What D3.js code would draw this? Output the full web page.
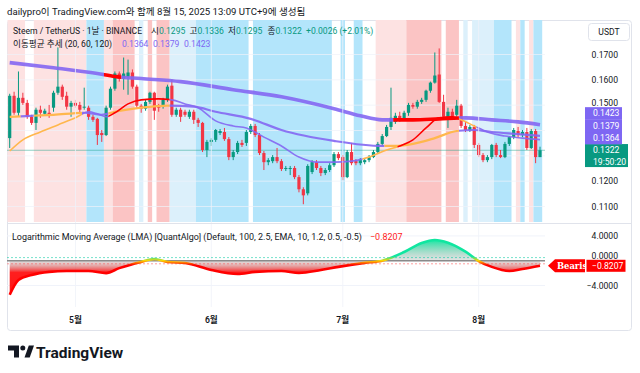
<!DOCTYPE html>
<html><head><meta charset="utf-8">
<script src="https://cdn.jsdelivr.net/npm/d3@7"></script>
<style>
html,body{margin:0;padding:0;background:#fff;}
svg{display:block;font-family:Roboto,"Noto Sans CJK KR",sans-serif;}
</style></head><body>
<svg id="chart" width="640" height="373"></svg>
<script>
// ---------- DATA ----------
const startDate = "2025-04-16";
const endDate = "2025-08-15";
const opens = [0.1370,0.1537,0.1470,0.1529,0.1509,0.1454,0.1430,0.1482,0.1466,0.1470,
0.1490,0.1549,0.1573,0.1537,0.1494,0.1509,0.1501,0.1490,0.1490,0.1454,
0.1446,0.1390,0.1382,0.1490,0.1565,0.1625,0.1605,0.1613,0.1629,0.1573,
0.1498,0.1486,0.1513,0.1549,0.1498,0.1494,0.1521,0.1577,0.1462,0.1482,
0.1474,0.1454,0.1474,0.1442,0.1430,0.1323,0.1355,0.1363,0.1390,0.1394,
0.1366,0.1295,0.1315,0.1351,0.1351,0.1394,0.1418,0.1382,0.1311,0.1275,
0.1279,0.1295,0.1279,0.1248,0.1248,0.1252,0.1216,0.1168,0.1152,0.1236,
0.1275,0.1252,0.1232,0.1244,0.1263,0.1307,0.1295,0.1216,0.1315,0.1279,
0.1271,0.1275,0.1283,0.1295,0.1315,0.1347,0.1378,0.1414,0.1434,0.1458,
0.1442,0.1470,0.1501,0.1494,0.1513,0.1521,0.1557,0.1589,0.1621,0.1513,
0.1454,0.1474,0.1462,0.1498,0.1418,0.1402,0.1414,0.1343,0.1303,0.1283,
0.1295,0.1343,0.1303,0.1295,0.1347,0.1374,0.1398,0.1382,0.1394,0.1331,
0.1398,0.1295];
const highs = [0.1545,0.1553,0.1633,0.1549,0.1521,0.1462,0.1490,0.1498,0.1486,0.1501,
0.1557,0.1728,0.1581,0.1553,0.1517,0.1521,0.1513,0.1569,0.1498,0.1462,
0.1450,0.1402,0.1498,0.1573,0.1633,0.1633,0.1688,0.1680,0.1641,0.1581,
0.1505,0.1521,0.1553,0.1553,0.1505,0.1529,0.1581,0.1601,0.1490,0.1490,
0.1482,0.1482,0.1482,0.1450,0.1434,0.1363,0.1370,0.1406,0.1406,0.1410,
0.1374,0.1323,0.1359,0.1363,0.1402,0.1426,0.1426,0.1390,0.1319,0.1291,
0.1303,0.1331,0.1287,0.1260,0.1260,0.1260,0.1224,0.1176,0.1267,0.1283,
0.1283,0.1260,0.1252,0.1271,0.1315,0.1315,0.1303,0.1323,0.1351,0.1287,
0.1291,0.1291,0.1303,0.1323,0.1355,0.1386,0.1422,0.1569,0.1470,0.1474,
0.1478,0.1509,0.1509,0.1521,0.1529,0.1561,0.1593,0.1708,0.1724,0.1541,
0.1490,0.1486,0.1521,0.1505,0.1434,0.1422,0.1422,0.1351,0.1311,0.1303,
0.1347,0.1351,0.1323,0.1355,0.1378,0.1410,0.1414,0.1402,0.1410,0.1406,
0.1406,0.1336];
const lows = [0.1331,0.1462,0.1454,0.1501,0.1446,0.1422,0.1402,0.1450,0.1458,0.1450,
0.1474,0.1541,0.1521,0.1482,0.1454,0.1490,0.1470,0.1482,0.1442,0.1434,
0.1343,0.1355,0.1378,0.1482,0.1557,0.1593,0.1561,0.1541,0.1565,0.1490,
0.1470,0.1478,0.1505,0.1442,0.1474,0.1486,0.1513,0.1454,0.1454,0.1434,
0.1454,0.1446,0.1426,0.1414,0.1315,0.1295,0.1339,0.1355,0.1382,0.1359,
0.1283,0.1283,0.1307,0.1335,0.1339,0.1386,0.1374,0.1303,0.1244,0.1263,
0.1271,0.1271,0.1240,0.1240,0.1224,0.1208,0.1156,0.1109,0.1144,0.1228,
0.1244,0.1220,0.1224,0.1236,0.1256,0.1283,0.1204,0.1212,0.1263,0.1263,
0.1263,0.1267,0.1275,0.1291,0.1307,0.1339,0.1374,0.1402,0.1426,0.1434,
0.1438,0.1458,0.1486,0.1486,0.1505,0.1513,0.1549,0.1585,0.1509,0.1450,
0.1410,0.1446,0.1454,0.1410,0.1394,0.1394,0.1331,0.1295,0.1275,0.1275,
0.1287,0.1295,0.1291,0.1291,0.1339,0.1366,0.1374,0.1374,0.1323,0.1327,
0.1271,0.1295];
const closes = [0.1537,0.1470,0.1529,0.1509,0.1454,0.1430,0.1482,0.1470,0.1478,0.1462,
0.1549,0.1573,0.1533,0.1494,0.1509,0.1498,0.1482,0.1494,0.1454,0.1442,
0.1382,0.1382,0.1490,0.1565,0.1625,0.1605,0.1625,0.1629,0.1573,0.1498,
0.1486,0.1513,0.1549,0.1478,0.1490,0.1521,0.1573,0.1462,0.1482,0.1454,
0.1462,0.1474,0.1442,0.1430,0.1323,0.1355,0.1363,0.1402,0.1398,0.1366,
0.1295,0.1315,0.1351,0.1343,0.1394,0.1418,0.1382,0.1311,0.1275,0.1283,
0.1295,0.1279,0.1248,0.1252,0.1252,0.1216,0.1168,0.1144,0.1260,0.1275,
0.1252,0.1232,0.1244,0.1263,0.1307,0.1291,0.1216,0.1315,0.1271,0.1271,
0.1283,0.1283,0.1295,0.1315,0.1347,0.1378,0.1414,0.1450,0.1458,0.1442,
0.1470,0.1501,0.1494,0.1513,0.1521,0.1557,0.1589,0.1617,0.1513,0.1454,
0.1474,0.1454,0.1498,0.1418,0.1402,0.1414,0.1343,0.1303,0.1283,0.1295,
0.1343,0.1303,0.1295,0.1347,0.1374,0.1402,0.1382,0.1394,0.1331,0.1398,
0.1295,0.1322];

// moving averages, read at sample days (day index from start)
const ma20Day = [0,3,7,11,15,18,20,22,24,27,30,34,37,40,43,47,51,54,58,62,66,70,74,78,82,86,89,92,95,98,101,103,106,109,113,117,121];
const ma20Val = [0.1319,0.1363,0.1394,0.1422,0.1450,0.1474,0.1466,0.1454,0.1470,0.1505,0.1521,0.1525,0.1521,0.1505,0.1490,0.1438,0.1418,0.1410,0.1374,0.1339,0.1295,0.1275,0.1275,0.1279,0.1295,0.1323,0.1339,0.1363,0.1410,0.1450,0.1454,0.1442,0.1418,0.1394,0.1378,0.1370,0.1364];
const ma60Day = [0,5,10,17,21,24,30,36,42,47,55,62,74,85,88,92,97,102,106,110,116,121];
const ma60Val = [0.1454,0.1458,0.1462,0.1470,0.1462,0.1474,0.1490,0.1498,0.1494,0.1474,0.1446,0.1402,0.1359,0.1339,0.1339,0.1347,0.1370,0.1398,0.1402,0.1394,0.1386,0.1379];
const ma120Day = [0,10,20,24,30,39,51,62,74,80,85,92,98,104,110,116,121];
const ma120Val = [0.1668,0.1648,0.1625,0.1613,0.1605,0.1593,0.1561,0.1533,0.1486,0.1458,0.1442,0.1442,0.1446,0.1450,0.1442,0.1434,0.1423];
// trend state runs: [first day, state]
const ma20Trend = [[0,"up"],[17,"down"],[23,"strong"],[37,"down"],[81,"up"],[89,"strong"],[103,"up"],[107,"down"]];
const ma60Trend = [[0,"up"],[3,"down"],[6,"up"],[17,"down"],[23,"up"],[37,"down"],[86,"up"],[103,"down"]];
const ma120Trend = [[0,"down"],[22,"strong"],[26,"down"],[88,"strong"],[103,"down"]];

// background regime runs: [first day, state]
const regimeRuns = [[0,"bull"],[4,"none"],[6,"bull"],[18,"bearStrong"],[22,"bull"],[24,"bullStrong"],[29,"none"],[30,"bear"],[31,"none"],[32,"bullStrong"],[33,"none"],[34,"bullStrong"],[37,"bear"],[43,"bearStrong"],[55,"none"],[56,"bearStrong"],[74,"none"],[76,"bearStrong"],[77,"none"],[79,"bearStrong"],[81,"none"],[84,"bull"],[91,"bullStrong"],[99,"none"],[100,"bullStrong"],[103,"none"],[104,"bear"],[105,"none"],[106,"bear"],[111,"bearStrong"],[115,"none"],[116,"bull"],[117,"bearStrong"],[118,"none"],[119,"bull"],[120,"bearStrong"]];

// LMA oscillator, read at sample days
const lmaDay = [0,2,5,9,13,18,22,25,30,33,36,40,46,52,56,62,66,71,75,81,85,90,94,97,100,104,107,110,114,117,121];
const lmaVal = [-5.5,-3.1,-2.3,-1.8,-1.65,-1.65,-2.0,-1.2,-0.2,0.27,-0.2,-0.37,-1.5,-2.15,-1.8,-1.66,-1.98,-1.5,-1.0,-0.35,0.0,1.4,2.85,3.35,2.9,1.45,-0.05,-1.0,-1.66,-1.34,-0.8207];

const priceTicks = [0.11,0.12,0.13,0.14,0.15,0.16,0.17];
const lmaTicks = [-4,0,4];

// ---------- SCALES ----------
const svg = d3.select("#chart");
const defs = svg.append("defs");
const parse = d3.utcParse("%Y-%m-%d");
const dates = d3.utcDay.range(parse(startDate), d3.utcDay.offset(parse(endDate), 1));
const x = d3.scaleUtc().domain([dates[0], dates[dates.length-1]]).range([9.7, 540]);
const y = d3.scaleLinear().domain([0.11, 0.17]).range([206.5, 54.5]);
const yl = d3.scaleLinear().domain([-4, 4]).range([285.5, 235.9]);
const step = x(dates[1]) - x(dates[0]);
const PL = 7, PR = 545, MT = 20, MB = 222, LT = 224, LB = 307;
const TXT = "#131722", GREEN = "#089981", RED = "#f23645", PURPLE = "#7e67f3";

defs.append("clipPath").attr("id","clipMain").append("rect").attr("x",PL).attr("y",MT).attr("width",PR-PL).attr("height",MB-MT);
defs.append("clipPath").attr("id","clipLow").append("rect").attr("x",PL).attr("y",LT).attr("width",PR-PL).attr("height",LB-LT);

// header
svg.append("text").attr("x",7).attr("y",15).attr("font-size",9.6).attr("fill",TXT)
  .text("dailypro이 TradingView.com와 함께 8월 15, 2025 13:09 UTC+9에 생성됨");

// frame
svg.append("rect").attr("x",7.5).attr("y",20.5).attr("width",624).attr("height",310).attr("rx",3)
  .attr("fill","none").attr("stroke","#e0e3eb");

// ---------- MAIN PANE ----------
const main = svg.append("g").attr("clip-path","url(#clipMain)");
const regimeColor = {bull:"#fde2e2", bullStrong:"#fbc4c4", bear:"#dcf0fb", bearStrong:"#b3e5fb", none:null};
const runs = (arr) => arr.map((r,k)=>({s:r[0], e:(k+1<arr.length?arr[k+1][0]:dates.length)-1, state:r[1]}));
main.selectAll("rect.band").data(runs(regimeRuns).filter(r=>regimeColor[r.state])).join("rect")
  .attr("class","band")
  .attr("x",r=>x(dates[r.s])-step/2).attr("width",r=>x(dates[r.e])-x(dates[r.s])+step)
  .attr("y",MT).attr("height",MB-MT).attr("fill",r=>regimeColor[r.state]);

// grids
const monthTicks = x.ticks(d3.utcMonth);
svg.selectAll("line.vg").data(monthTicks).join("line").attr("class","vg")
  .attr("x1",d=>x(d)).attr("x2",d=>x(d)).attr("y1",MT).attr("y2",LB)
  .attr("stroke","#f0f3fa").attr("stroke-width",1).attr("opacity",0.8);
main.selectAll("line.hg").data(priceTicks).join("line").attr("class","hg")
  .attr("x1",PL).attr("x2",PR).attr("y1",d=>y(d)).attr("y2",d=>y(d))
  .attr("stroke","#f0f3fa").attr("opacity",0.7);

// current price line
const lastClose = closes[closes.length-1];
main.append("line").attr("x1",PL).attr("x2",PR).attr("y1",y(lastClose)).attr("y2",y(lastClose))
  .attr("stroke",GREEN).attr("stroke-opacity",0.45).attr("stroke-width",1);

// candles
const idx = d3.range(dates.length);
main.selectAll("line.wick").data(idx).join("line").attr("class","wick")
  .attr("x1",i=>x(dates[i])).attr("x2",i=>x(dates[i]))
  .attr("y1",i=>y(highs[i])).attr("y2",i=>y(lows[i]))
  .attr("stroke",i=>closes[i]>=opens[i]?GREEN:RED).attr("stroke-width",1);
main.selectAll("rect.body").data(idx).join("rect").attr("class","body")
  .attr("x",i=>x(dates[i])-1.6).attr("width",3.2)
  .attr("y",i=>y(Math.max(opens[i],closes[i])))
  .attr("height",i=>Math.max(1, y(Math.min(opens[i],closes[i]))-y(Math.max(opens[i],closes[i]))))
  .attr("fill",i=>closes[i]>=opens[i]?GREEN:RED);

// moving averages with trend coloring
const maSpecs = [
  {id:"ma120", days:ma120Day, vals:ma120Val, trend:ma120Trend, w:3.6, colors:{down:"#8467f2", up:"#ffb74d", strong:"#ff0000"}},
  {id:"ma60", days:ma60Day, vals:ma60Val, trend:ma60Trend, w:2.2, colors:{down:"#8467f2", up:"#ffb74d", strong:"#ff0000"}},
  {id:"ma20", days:ma20Day, vals:ma20Val, trend:ma20Trend, w:1.6, colors:{down:"#8467f2", up:"#ffb74d", strong:"#ff0000"}}
];
const maLine = d3.line().x(d=>x(dates[d[0]])).y(d=>y(d[1])).curve(d3.curveMonotoneX);
maSpecs.forEach(spec=>{
  const pts = spec.days.map((d,k)=>[d, spec.vals[k]]);
  const pathD = maLine(pts);
  runs(spec.trend).forEach((r,k)=>{
    const cid = spec.id+"seg"+k;
    const x0 = r.s===0 ? PL : x(dates[r.s])-step/2;
    const x1 = r.e===dates.length-1 ? PR : x(dates[r.e])+step/2;
    defs.append("clipPath").attr("id",cid).append("rect").attr("x",x0).attr("y",MT).attr("width",x1-x0).attr("height",MB-MT);
    main.append("path").attr("d",pathD).attr("clip-path",`url(#${cid})`)
      .attr("fill","none").attr("stroke",spec.colors[r.state]).attr("stroke-width",spec.w)
      .attr("stroke-opacity", r.state==="down"?0.9:1).attr("stroke-linecap","butt");
  });
});

// legend
const leg1 = svg.append("text").attr("y",34).attr("font-size",8.6).attr("fill",TXT);
leg1.append("tspan").attr("x",13).text("Steem / TetherUS · 1날 · BINANCE");
const ohlc = [["시",opens[opens.length-1],151],["고",highs[highs.length-1],189.5],["저",lows[lows.length-1],228],["종",lastClose,267.5]];
ohlc.forEach(o=>{
  leg1.append("tspan").attr("x",o[2]).attr("fill",TXT).text(o[0]);
  leg1.append("tspan").attr("fill",GREEN).text(d3.format(".4f")(o[1]));
});
leg1.append("tspan").attr("x",306).attr("fill",GREEN).text("+0.0026 (+2.01%)");
const leg2 = svg.append("text").attr("y",47).attr("font-size",8.6).attr("fill",TXT);
leg2.append("tspan").attr("x",13).text("이동평균 추세 (20, 60, 120)");
[[ma20Val,122],[ma60Val,153],[ma120Val,184]].forEach(m=>{
  leg2.append("tspan").attr("x",m[1]).attr("fill",PURPLE).text(d3.format(".4f")(m[0][m[0].length-1]));
});

// price labels (stacked upward from current price) - computed first to hide covered ticks
const curTop = y(lastClose)-6.2, curBot = curTop+23;
const maLast = [ma20Val[ma20Val.length-1], ma60Val[ma60Val.length-1], ma120Val[ma120Val.length-1]].sort((a,b)=>a-b);
let prevTop = curTop; const LH = 12.3;
const maBoxes = maLast.map(v=>{
  const cy = Math.min(y(v), prevTop-LH/2);
  prevTop = cy-LH/2;
  return {v, cy};
});

// price axis
svg.append("rect").attr("x",588.5).attr("y",23.5).attr("width",41).attr("height",17).attr("rx",3)
  .attr("fill","#fff").attr("stroke","#e0e3eb");
svg.append("text").attr("x",609).attr("y",35).attr("text-anchor","middle").attr("font-size",8.6).attr("fill",TXT).text("USDT");
svg.selectAll("text.pt").data(priceTicks.filter(d=>y(d)<prevTop||y(d)>curBot)).join("text").attr("class","pt")
  .attr("x",618).attr("y",d=>y(d)<prevTop ? Math.min(y(d)+3, prevTop-0.8) : y(d)+3)
  .attr("text-anchor","end").attr("font-size",8.6).attr("fill",TXT)
  .text(d=>d3.format(".4f")(d));

svg.append("rect").attr("x",585).attr("y",curTop).attr("width",43).attr("height",23).attr("fill",GREEN);
svg.append("text").attr("x",593).attr("y",y(lastClose)+3).attr("font-size",8.6).attr("fill","#fff").text(d3.format(".4f")(lastClose));
svg.append("text").attr("x",593).attr("y",y(lastClose)+14.3).attr("font-size",8.6).attr("fill","#fff").text("19:50:20");
maBoxes.forEach(b=>{
  svg.append("rect").attr("x",585).attr("y",b.cy-LH/2).attr("width",37).attr("height",LH+0.3).attr("fill",PURPLE);
  svg.append("text").attr("x",593).attr("y",b.cy+3).attr("font-size",8.6).attr("fill","#fff").text(d3.format(".4f")(b.v));
});

// pane separator
svg.append("line").attr("x1",7).attr("x2",632).attr("y1",223.5).attr("y2",223.5).attr("stroke","#e0e3eb");

// ---------- LMA PANE ----------
const low = svg.append("g").attr("clip-path","url(#clipLow)");
low.selectAll("line.lg").data(lmaTicks).join("line").attr("class","lg")
  .attr("x1",PL).attr("x2",PR).attr("y1",d=>yl(d)).attr("y2",d=>yl(d)).attr("stroke","#f0f3fa");
const gy1 = yl(3.5), gy2 = yl(-5.6);
const off = v => (yl(v)-gy1)/(gy2-gy1);
const fillG = defs.append("linearGradient").attr("id","lmaFill").attr("gradientUnits","userSpaceOnUse")
  .attr("x1",0).attr("x2",0).attr("y1",gy1).attr("y2",gy2);
[[3.3,"#10e6a0",0.95],[0,"#b0b0b0",0.35],[-1.9,"#ff0000",0.88],[-5.6,"#ff0000",0.92]].forEach(s=>{
  fillG.append("stop").attr("offset",Math.max(0,off(s[0]))).attr("stop-color",s[1]).attr("stop-opacity",s[2]);
});
const strokeG = defs.append("linearGradient").attr("id","lmaStroke").attr("gradientUnits","userSpaceOnUse")
  .attr("x1",0).attr("x2",0).attr("y1",yl(0.7)).attr("y2",yl(-0.7));
[[0,"#10e6a0"],[0.5,"#ffd600"],[1,"#ff0000"]].forEach(s=>strokeG.append("stop").attr("offset",s[0]).attr("stop-color",s[1]));

const lmaPts = lmaDay.map((d,k)=>[d, lmaVal[k]]);
low.append("path").datum(lmaPts)
  .attr("d", d3.area().x(d=>x(dates[d[0]])).y0(yl(0)).y1(d=>yl(d[1])).curve(d3.curveMonotoneX))
  .attr("fill","url(#lmaFill)");
[[0.5,"rgba(0,200,160,0.55)"],[-0.5,"rgba(255,80,80,0.55)"]].forEach(t=>{
  low.append("line").attr("x1",PL).attr("x2",PR).attr("y1",yl(t[0])).attr("y2",yl(t[0]))
    .attr("stroke",t[1]).attr("stroke-width",1).attr("stroke-dasharray","2,2");
});
low.append("line").attr("x1",PL).attr("x2",PR).attr("y1",yl(0)).attr("y2",yl(0)).attr("stroke","#8a8a8a").attr("stroke-width",1.4);
low.append("path").datum(lmaPts)
  .attr("d", d3.line().x(d=>x(dates[d[0]])).y(d=>yl(d[1])).curve(d3.curveMonotoneX))
  .attr("fill","none").attr("stroke","url(#lmaStroke)").attr("stroke-width",2.6);

const lmaLast = lmaVal[lmaVal.length-1];
const fmtSigned = v => (v<0?"\u2212":"") + d3.format(".4f")(Math.abs(v));
const lt = svg.append("text").attr("y",240).attr("font-size",8.95).attr("fill",TXT);
lt.append("tspan").attr("x",12).text("Logarithmic Moving Average (LMA) [QuantAlgo] (Default, 100, 2.5, EMA, 10, 1.2, 0.5, -0.5)");
lt.append("tspan").attr("x",370).attr("fill","#ff1a1a").text(fmtSigned(lmaLast));

const tagY = yl(lmaLast);
// axis labels of the oscillator; the zero label sits just above the value tag
svg.selectAll("text.lt").data(lmaTicks).join("text").attr("class","lt")
  .attr("x",618).attr("y",d=>d===0 ? tagY-6.8 : yl(d)+3).attr("text-anchor","end").attr("font-size",8.6).attr("fill",TXT)
  .text(d=>fmtSigned(d));

// Bearish tag + value label
defs.append("clipPath").attr("id","tagClip").append("rect").attr("x",540).attr("y",250).attr("width",45).attr("height",30);
svg.append("path").attr("d",`M548,${tagY} L555,${tagY-6.5} L585,${tagY-6.5} L585,${tagY+6.5} L555,${tagY+6.5} Z`).attr("fill","#ff0000");
svg.append("text").attr("clip-path","url(#tagClip)").attr("x",557).attr("y",tagY+3.2)
  .attr("font-family","'DejaVu Serif',serif").attr("font-weight","bold").attr("font-size",8.4).attr("fill","#fff").text("Bearish");
svg.append("rect").attr("x",586.5).attr("y",tagY-6).attr("width",39).attr("height",12).attr("fill","#ff0000");
svg.append("text").attr("x",592).attr("y",tagY+3).attr("font-size",8.6).attr("fill","#fff").text(fmtSigned(lmaLast));

// time axis
svg.selectAll("text.xt").data(monthTicks).join("text").attr("class","xt")
  .attr("x",d=>x(d)).attr("y",323).attr("text-anchor","middle").attr("font-size",8.6).attr("font-weight",600).attr("fill",TXT)
  .text(d=>(d.getUTCMonth()+1)+"월");

// TradingView logo
const logo = svg.append("g").attr("fill",TXT);
logo.append("path").attr("d","M8,345.5 h11 v12 h-5 v-7 h-6 z");
logo.append("circle").attr("cx",22.8).attr("cy",348).attr("r",2.5);
logo.append("path").attr("d","M24.5,357.5 l4.3,-12 h5.2 l-4.3,12 z");
svg.append("text").attr("x",36).attr("y",357.5).attr("font-size",15.5).attr("font-weight",700).attr("fill",TXT).text("TradingView");
</script>
</body></html>
